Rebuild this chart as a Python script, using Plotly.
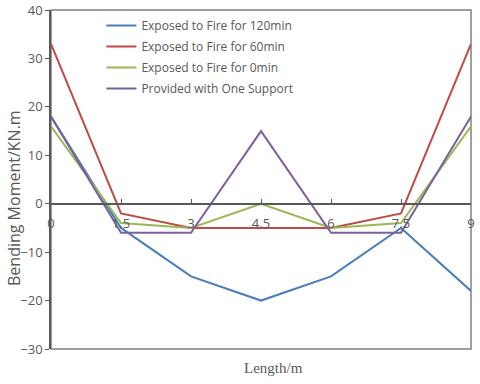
import plotly.graph_objects as go

x_vals = [0, 1.5, 3, 4.5, 6, 7.5, 9]
tick_text = ["0", "1.5", "3", "4.5", "6", "7.5", "9"]
fire_120 = [18, -5, -15, -20, -15, -5, -18]
fire_60 = [33, -2, -5, -5, -5, -2, 33]
fire_0 = [16, -4, -5, 0, -5, -4, 16]
one_support = [18, -6, -6, 15, -6, -6, 18]

names = ["Exposed to Fire for 120min", "Exposed to Fire for 60min",
         "Exposed to Fire for 0min", "Provided with One Support"]
colors = ["#4A7EBB", "#BE4B48", "#98B954", "#7D60A0"]
series = [fire_120, fire_60, fire_0, one_support]

fig = go.Figure()
for i, (n, c, s) in enumerate(zip(names, colors, series)):
    fig.add_trace(go.Scatter(x=x_vals, y=s, mode="lines", name=n,
                             legendgroup=f"g{i}",
                             line=dict(color=c, width=2)))

y_min, y_max = -30, 40
fig.update_layout(
    width=480, height=384,
    margin=dict(l=51, r=9, t=10, b=35, autoexpand=False),
    paper_bgcolor="white", plot_bgcolor="white",
    font=dict(family="Open Sans", color="#595959"),
    showlegend=True,
    legend=dict(x=0.12, y=0.997, xanchor="left", yanchor="top",
                bgcolor="rgba(0,0,0,0)", itemwidth=30, tracegroupgap=2,
                font=dict(size=12, color="#595959")),
    xaxis=dict(range=[0, 9], tickvals=x_vals, ticktext=tick_text,
               anchor="free", position=(0 - y_min) / (y_max - y_min),
               showline=True, linecolor="#595959", linewidth=1.5,
               ticks="inside", ticklen=4, tickcolor="#595959",
               showgrid=False, zeroline=False, automargin=False,
               tickfont=dict(size=13, color="#595959"),
               ticklabelstandoff=8),
    yaxis=dict(range=[y_min, y_max], dtick=10,
               showline=True, linecolor="#595959", linewidth=1.5,
               ticks="outside", ticklen=4, tickcolor="#595959",
               showgrid=False, zeroline=False, automargin=False,
               tickfont=dict(size=13, color="#595959")),
    shapes=[dict(type="rect", xref="paper", yref="paper", x0=0, x1=1, y0=0, y1=1,
                 line=dict(color="#808080", width=1.5), layer="below")],
    annotations=[
        dict(text="Length/m", xref="paper", yref="paper",
             x=0.53, y=-0.026, xanchor="center", yanchor="top",
             showarrow=False,
             font=dict(family="Liberation Serif", size=15, color="#595959")),
        dict(text="Bending Moment/KN.m", xref="paper", yref="paper",
             x=-37 / 420, y=151 / 339, xanchor="center", yanchor="middle",
             textangle=-90, showarrow=False,
             font=dict(family="Open Sans", size=16, color="#595959")),
    ],
)

fig.write_html("out.html", config={"displayModeBar": False},
               post_script="document.body.style.margin='0';")
